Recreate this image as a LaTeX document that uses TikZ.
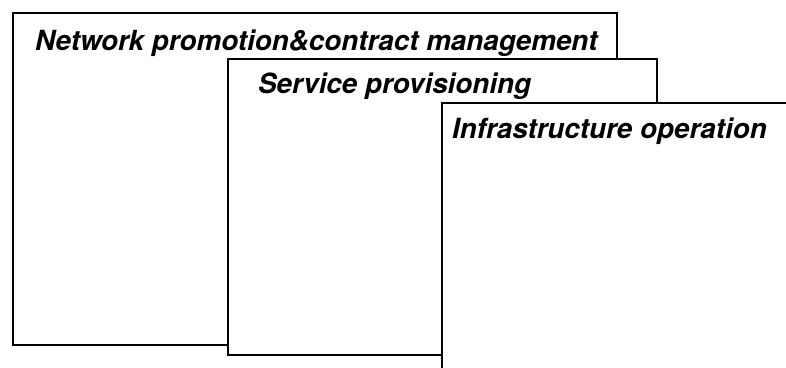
\documentclass[tikz,border=0pt]{standalone}
\usepackage{fontspec}
\setmainfont{TeX Gyre Heros}
\begin{document}
\begin{tikzpicture}[x=1pt,y=-1pt,
  layer/.style={draw=black,line width=1.6pt,fill=white},
  title/.style={anchor=base west,inner sep=0pt,font=\fontsize{27.8}{30}\selectfont\bfseries\itshape}]
\useasboundingbox (0,0) rectangle (786,367);
\path[layer] (13,13) rectangle (617,345);
\node[title] (t1) at (35,50) {Network promotion\&contract management};
\path[layer] (228,59) rectangle (657,355);
\node[title] (t2) at (258,93) {Service provisioning};
\path[layer] (442,103) -- (800,103) -- (800,380) -- (442,380) -- cycle;
\node[title] (t3) at (452,138) {Infrastructure operation};
\end{tikzpicture}
\end{document}
